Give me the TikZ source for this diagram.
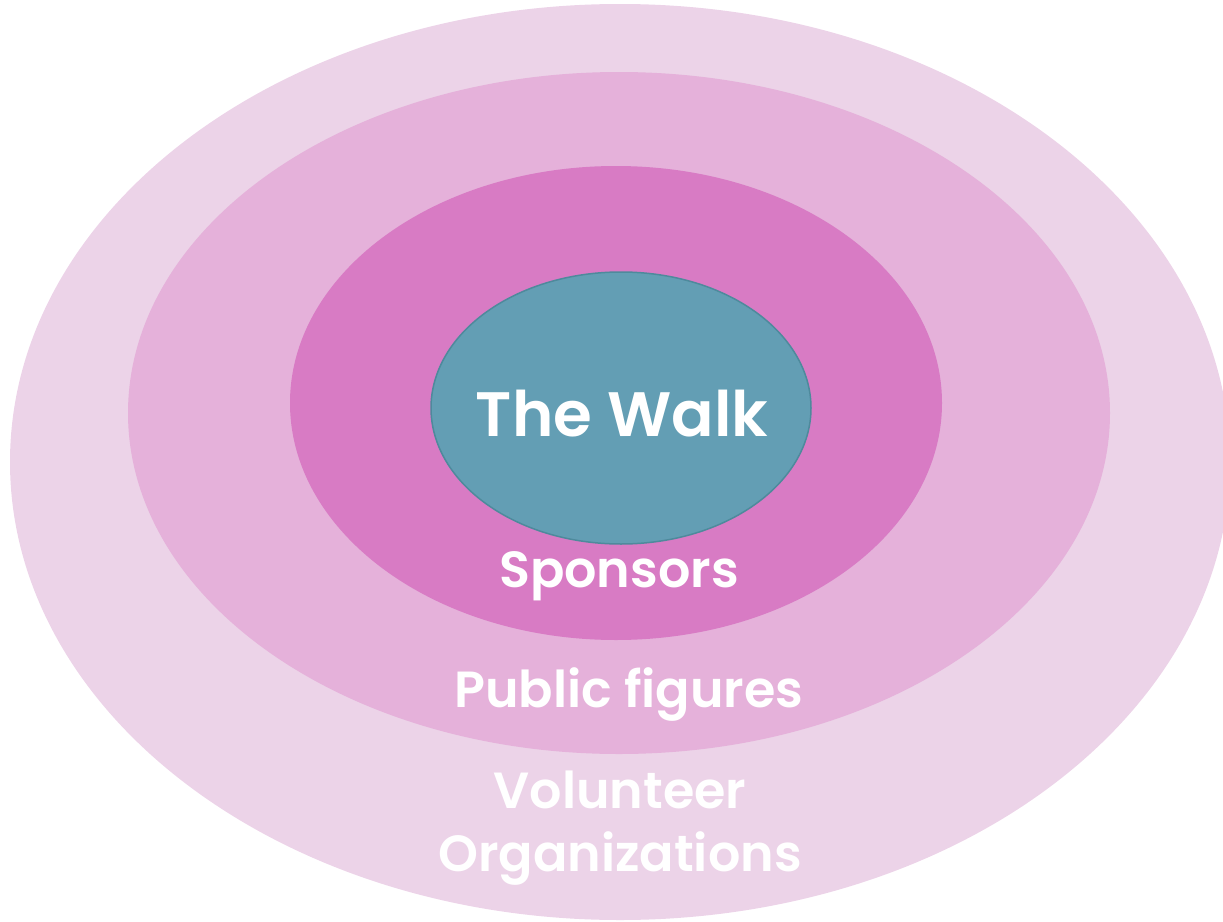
\documentclass[tikz,border=0pt]{standalone}
\usepackage{fontspec}
\setmainfont{Poppins}[BoldFont={* SemiBold}]
\definecolor{ringA}{HTML}{ECD3E8}
\definecolor{ringB}{HTML}{E5B1DA}
\definecolor{ringC}{HTML}{D87BC4}
\definecolor{core}{HTML}{639EB4}
\definecolor{coreline}{HTML}{4E8A9C}
\begin{document}
\begin{tikzpicture}[x=1bp,y=-1bp,
  lbl/.style={text=white,font=\bfseries,align=center,inner sep=0pt}]
\useasboundingbox (0,0) rectangle (1223,922);
\clip (0,0) rectangle (1223,922);
% nested rings, outermost first
\fill[ringA] (620,462) ellipse [x radius=610, y radius=458];
\fill[ringB] (619,413) ellipse [x radius=491, y radius=341];
\fill[ringC] (616,403) ellipse [x radius=326, y radius=237];
\draw[fill=core,draw=coreline,line width=1.5bp] (621,408) ellipse [x radius=190, y radius=136];
% labels
\node[lbl,font=\bfseries\fontsize{63}{70}\selectfont] (walk) at (622,414) {The Walk};
\node[lbl,font=\bfseries\fontsize{51}{56}\selectfont] (spons) at (619,576) {Sponsors};
\node[lbl,font=\bfseries\fontsize{51}{56}\selectfont] (pub) at (629,695) {Public figures};
\node[lbl,font=\bfseries\fontsize{51}{63}\selectfont] (vol) at (620,828) {Volunteer\\Organizations};
\end{tikzpicture}
\end{document}
